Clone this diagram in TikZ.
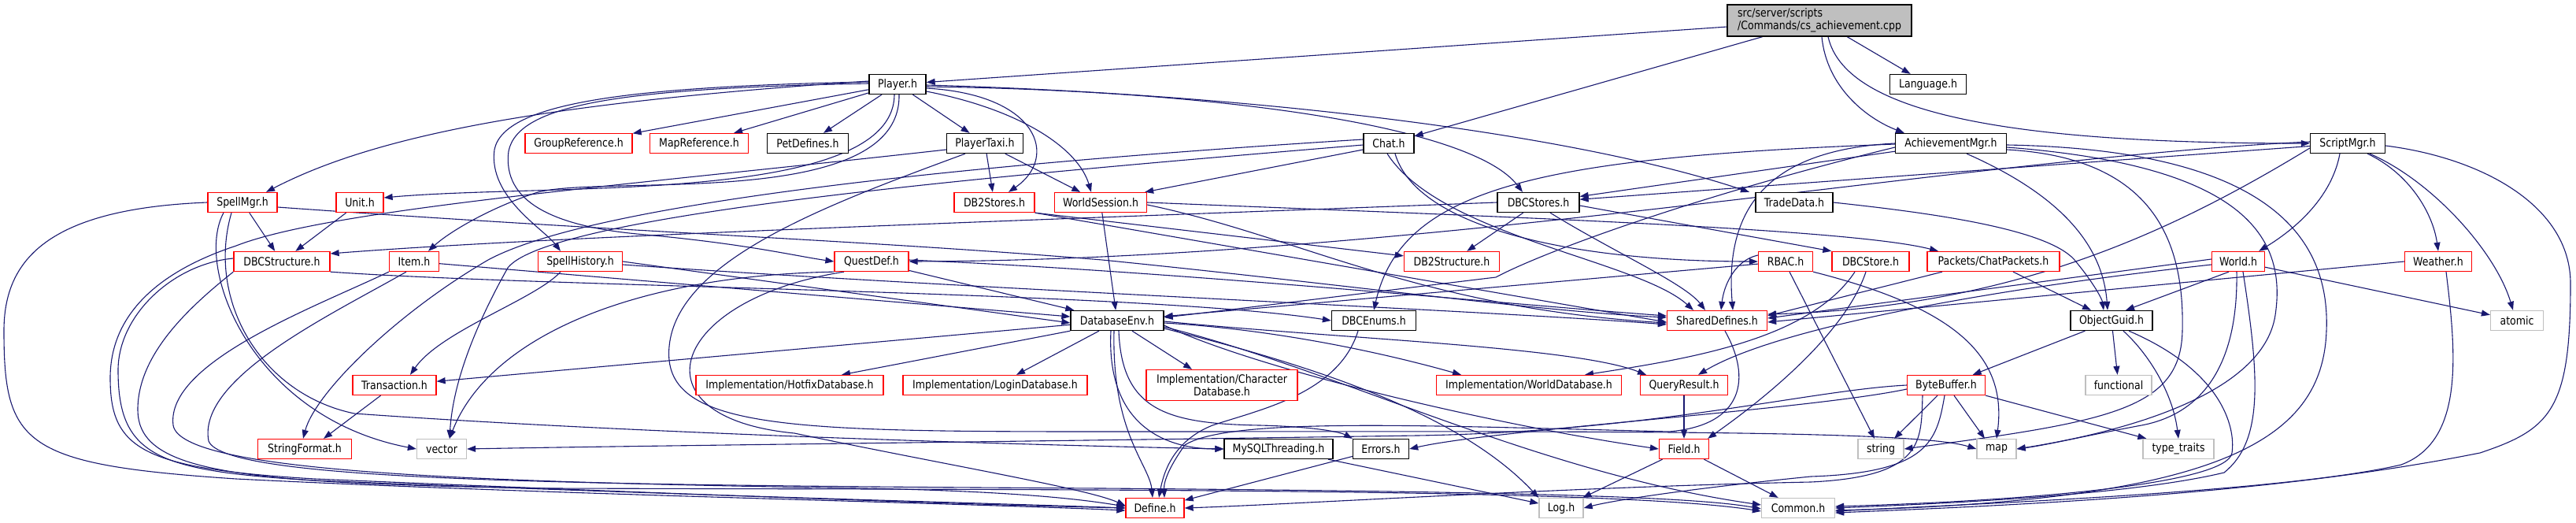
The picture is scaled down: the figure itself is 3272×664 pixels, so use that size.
\documentclass[tikz,border=0pt]{standalone}
\usepackage{fontspec}
\setmainfont{DejaVu Sans}[FakeStretch=0.86]
\usetikzlibrary{arrows.meta}
\definecolor{edgecol}{HTML}{191970}
\definecolor{redb}{HTML}{FF0000}
\definecolor{grayb}{HTML}{BFBFBF}
\pgfdeclarelayer{edgelayer}
\pgfsetlayers{edgelayer,main}
\begin{document}
\begin{tikzpicture}[x=1pt,y=-1pt,
  box/.style={draw, line width=1.3pt, fill=white, inner sep=0pt, minimum height=25pt, font=\fontsize{14.6}{16}\selectfont},
  blk/.style={box, draw=black},
  redbox/.style={box, draw=redb},
  sysbox/.style={box, draw=grayb},
  e/.style={draw=edgecol, line width=1.1pt, -{Triangle[length=11pt,width=8pt]}}
]
\useasboundingbox (0,0) rectangle (3272,664);
% nodes
\node[blk, fill=grayb, minimum width=234pt, minimum height=40pt, align=left] (root) at (2311,26) {src/server/scripts\\/Commands/cs\_achievement.cpp};
\node[blk, minimum width=72pt] (player) at (1140,107) {Player.h};
\node[blk, minimum width=97pt] (language) at (2449,107) {Language.h};
\node[redbox, minimum width=136pt] (groupref) at (735,182) {GroupReference.h};
\node[redbox, minimum width=125pt] (mapref) at (888,182) {MapReference.h};
\node[blk, minimum width=103pt] (petdef) at (1026,182) {PetDefines.h};
\node[blk, minimum width=97pt] (ptaxi) at (1251,182) {PlayerTaxi.h};
\node[blk, minimum width=64pt] (chat) at (1764,182) {Chat.h};
\node[blk, minimum width=141pt] (achmgr) at (2478,182) {AchievementMgr.h};
\node[blk, minimum width=95pt] (scriptmgr) at (2982,182) {ScriptMgr.h};
\node[redbox, minimum width=88pt] (spellmgr) at (308,257) {SpellMgr.h};
\node[redbox, minimum width=60pt] (unit) at (457,257) {Unit.h};
\node[redbox, minimum width=102pt] (db2stores) at (1263,257) {DB2Stores.h};
\node[redbox, minimum width=117pt] (wsession) at (1398,257) {WorldSession.h};
\node[blk, minimum width=104pt] (dbcstores) at (1954,257) {DBCStores.h};
\node[blk, minimum width=98pt] (tradedata) at (2279,257) {TradeData.h};
\node[redbox, minimum width=122pt] (dbcstruct) at (358,332) {DBCStructure.h};
\node[redbox, minimum width=63pt] (item) at (526,332) {Item.h};
\node[redbox, minimum width=107pt] (spellhist) at (737,332) {SpellHistory.h};
\node[redbox, minimum width=94pt] (questdef) at (1107,332) {QuestDef.h};
\node[redbox, minimum width=121pt] (db2struct) at (1844,332) {DB2Structure.h};
\node[redbox, minimum width=69pt] (rbac) at (2268,332) {RBAC.h};
\node[redbox, minimum width=98pt] (dbcstore) at (2376,332) {DBCStore.h};
\node[redbox, minimum width=168pt] (chatpk) at (2532,332) {Packets/ChatPackets.h};
\node[redbox, minimum width=67pt] (world) at (2843,332) {World.h};
\node[redbox, minimum width=85pt] (weather) at (3097,332) {Weather.h};
\node[blk, minimum width=118pt] (dbenv) at (1419,407) {DatabaseEnv.h};
\node[blk, minimum width=107pt] (dbcenums) at (1745,407) {DBCEnums.h};
\node[redbox, minimum width=127pt] (shared) at (2181,407) {SharedDefines.h};
\node[blk, minimum width=104pt] (oguid) at (2682,407) {ObjectGuid.h};
\node[sysbox, minimum width=67pt] (atomic) at (3197,407) {atomic};
\node[redbox, minimum width=106pt] (trans) at (501,489) {Transaction.h};
\node[redbox, minimum width=238pt] (hotfix) at (1003,489) {Implementation/HotfixDatabase.h};
\node[redbox, minimum width=234pt] (login) at (1264,489) {Implementation/LoginDatabase.h};
\node[redbox, minimum width=192pt, minimum height=39pt, align=center] (chardb) at (1552,489) {Implementation/Character\\Database.h};
\node[redbox, minimum width=235pt] (worlddb) at (1942,489) {Implementation/WorldDatabase.h};
\node[redbox, minimum width=111pt] (qresult) at (2139,489) {QueryResult.h};
\node[redbox, minimum width=99pt] (bbuf) at (2472,489) {ByteBuffer.h};
\node[sysbox, minimum width=84pt] (functional) at (2691,489) {functional};
\node[redbox, minimum width=119pt] (strfmt) at (387,570) {StringFormat.h};
\node[sysbox, minimum width=63pt] (vector) at (561,570) {vector};
\node[blk, minimum width=138pt] (mysqlthr) at (1624,570) {MySQLThreading.h};
\node[blk, minimum width=71pt] (errors) at (1754,570) {Errors.h};
\node[redbox, minimum width=63pt] (field) at (2139,570) {Field.h};
\node[sysbox, minimum width=58pt] (string) at (2389,570) {string};
\node[sysbox, minimum width=50pt] (map) at (2536,570) {map};
\node[sysbox, minimum width=90pt] (typetraits) at (2767,570) {type\_traits};
\node[redbox, minimum width=74pt] (define) at (1467,645) {Define.h};
\node[sysbox, minimum width=56pt] (log) at (1983,645) {Log.h};
\node[sysbox, minimum width=93pt] (common) at (2284,645) {Common.h};

\begin{pgfonlayer}{edgelayer}
% root
\draw[e] (root) -- (player);
\draw[e] (root) -- (chat);
\draw[e] (root) -- (language);
\draw[e] ([xshift=3pt]root.south) .. controls (2320,110) and (2370,150) .. ([xshift=12pt]achmgr.north west);
\draw[e] ([xshift=11pt]root.south) .. controls (2345,150) and (2580,182) .. (scriptmgr.west);
% player
\draw[e] (player) -- (groupref);
\draw[e] (player) -- (mapref);
\draw[e] (player) -- (petdef);
\draw[e] (player) -- (ptaxi);
\draw[e] ([yshift=-5pt]player.east) .. controls (1320,120) and (1345,200) .. ([xshift=18pt]db2stores.north);
\draw[e] ([yshift=-9pt]player.east) .. controls (1300,140) and (1370,190) .. ([xshift=-12pt]wsession.north);
\draw[e] ([yshift=-3pt]player.east) .. controls (1550,115) and (1870,160) .. ([xshift=-20pt]dbcstores.north);
\draw[e] ([yshift=-1pt]player.east) .. controls (1600,120) and (2000,170) .. ([xshift=-57pt]tradedata.north);
\draw[e] ([yshift=4pt]player.west) .. controls (700,130) and (480,170) .. ([xshift=30pt]spellmgr.north);
\draw[e] ([yshift=3pt]player.west) .. controls (800,110) and (640,130) .. (628,190) .. controls (620,250) and (690,290) .. ([xshift=-25pt]spellhist.north);
\draw[e] ([yshift=1pt]player.west) .. controls (790,112) and (658,132) .. (646,192) .. controls (638,255) and (700,288) .. (820,298) .. controls (950,310) and (1010,325) .. (questdef.west);
\draw[e] ([xshift=-4pt]player.south) .. controls (1135,260) and (700,232) .. ([yshift=6pt]unit.east);
\draw[e] ([xshift=2pt]player.south) .. controls (1145,270) and (760,220) .. (680,245) .. controls (620,265) and (570,295) .. ([xshift=18pt]item.north);
% playertaxi
\draw[e] (ptaxi) -- (db2stores);
\draw[e] (ptaxi) -- (wsession);
\draw[e] ([yshift=-8pt]ptaxi.west) .. controls (800,235) and (420,265) .. (300,312) .. controls (200,345) and (140,400) .. (140,480) .. controls (140,570) and (180,595) .. (400,608) .. controls (800,625) and (1200,640) .. (define.west);
\draw[e] ([xshift=-25pt]ptaxi.south) .. controls (1050,260) and (860,330) .. (850,440) .. controls (840,545) and (1000,548) .. (1400,548) .. controls (2000,548) and (2430,545) .. (map.west);
% chat
\draw[e] ([yshift=-8pt]chat.west) -- ([xshift=-3pt]wsession.north east);
\draw[e] ([xshift=8pt]chat.south) .. controls (1800,290) and (2000,332) .. (rbac.west);
\draw[e] ([xshift=-2pt]chat.south) .. controls (1830,300) and (2080,330) .. ([xshift=-30pt]shared.north);
\draw[e] ([yshift=5pt]chat.west) .. controls (1200,210) and (750,260) .. (620,330) .. controls (500,400) and (400,500) .. ([xshift=-2pt]strfmt.north);
\draw[e] ([yshift=-2pt]chat.west) .. controls (1300,220) and (700,270) .. (645,340) .. controls (600,420) and (575,490) .. ([xshift=10pt]vector.north);
% worldsession
\draw[e] (wsession) -- (dbenv);
\draw[e] ([yshift=-3pt]wsession.east) .. controls (1650,300) and (1800,390) .. ([yshift=-3pt]shared.west);
\draw[e] (wsession.east) .. controls (1900,275) and (2350,290) .. ([xshift=-70pt]chatpk.north);
% db2stores
\draw[e] (db2stores.south east) -- (db2struct);
\draw[e] (db2stores.south east) -- ([yshift=-2pt]shared.west);
% dbcstores
\draw[e] (dbcstores) -- (db2struct);
\draw[e] ([yshift=-4pt]dbcstores.east) -- (dbcstore.north west);
\draw[e] (dbcstores.west) .. controls (1300,280) and (700,300) .. ([yshift=10pt]dbcstruct.east);
\draw[e] ([xshift=15pt]dbcstores.south) .. controls (2050,320) and (2140,360) .. ([xshift=-15pt]shared.north);
% achievementmgr
\draw[e] (achmgr) -- (dbcstores);
\draw[e] ([yshift=-5pt]achmgr.west) .. controls (2150,250) and (1960,320) .. (1900,352) .. controls (1750,370) and (1550,395) .. ([yshift=4pt]dbenv.east);
\draw[e] ([yshift=-1pt]achmgr.west) .. controls (1950,200) and (1780,240) .. (dbcenums.north);
\draw[e] (achmgr.west) .. controls (2250,190) and (2190,260) .. ([xshift=20pt]shared.north);
\draw[e] ([xshift=20pt]achmgr.south) .. controls (2600,240) and (2670,300) .. ([xshift=-5pt]oguid.north);
\draw[e] ([yshift=-8pt]achmgr.east) .. controls (2730,200) and (2775,300) .. (2772,420) .. controls (2770,520) and (2680,535) .. (string.east);
\draw[e] ([yshift=-5pt]achmgr.east) .. controls (2850,210) and (2905,300) .. (2890,400) .. controls (2875,500) and (2700,548) .. (map.east);
\draw[e] ([yshift=-2pt]achmgr.east) .. controls (2880,190) and (2960,300) .. (2955,420) .. controls (2950,560) and (2820,635) .. ([yshift=-3pt]common.east);
% scriptmgr
\draw[e] (scriptmgr) -- (dbcstores);
\draw[e] ([yshift=-6pt]scriptmgr.west) .. controls (2750,300) and (2550,390) .. ([yshift=8pt]shared.east);
\draw[e] ([yshift=2pt]scriptmgr.west) .. controls (2500,200) and (1800,330) .. (questdef.east);
\draw[e] ([xshift=-10pt]scriptmgr.south) .. controls (2960,260) and (2900,300) .. ([xshift=-8pt]world.north east);
\draw[e] ([xshift=25pt]scriptmgr.south) .. controls (3060,220) and (3090,270) .. (weather.north);
\draw[e] ([xshift=28pt]scriptmgr.south) .. controls (3090,230) and (3170,320) .. ([xshift=-5pt]atomic.north);
\draw[e] ([yshift=-3pt]scriptmgr.east) .. controls (3150,200) and (3265,260) .. (3265,360) .. controls (3265,520) and (3240,545) .. (3150,575) .. controls (2900,625) and (2600,640) .. ([yshift=-6pt]common.east);
% spellmgr
\draw[e] (spellmgr) -- (dbcstruct);
\draw[e] ([yshift=-6pt]spellmgr.east) .. controls (800,295) and (1100,305) .. (1400,330) .. controls (1700,360) and (1950,395) .. ([yshift=4pt]shared.west);
\draw[e] (spellmgr.west) .. controls (60,265) and (5,330) .. (5,420) .. controls (5,565) and (30,590) .. (300,608) .. controls (700,628) and (1200,638) .. ([yshift=-3pt]define.west);
\draw[e] ([xshift=-24pt]spellmgr.south) .. controls (246,340) and (320,530) .. (vector.west);
\draw[e] ([xshift=-14pt]spellmgr.south) .. controls (262,380) and (330,500) .. (450,525) .. controls (800,550) and (1300,565) .. (mysqlthr.west);
% unit
\draw[e] (unit) -- (dbcstruct);
% dbcstructure
\draw[e] (dbcstruct.south east) .. controls (700,365) and (1450,370) .. (dbcenums.west);
\draw[e] ([yshift=4pt]dbcstruct.west) .. controls (220,335) and (150,400) .. (150,470) .. controls (150,580) and (200,598) .. (400,610) .. controls (900,630) and (1300,640) .. (define.west);
\draw[e] (dbcstruct.south west) .. controls (240,390) and (175,450) .. (175,520) .. controls (175,600) and (300,614) .. (700,620) .. controls (1400,622) and (2050,620) .. ([yshift=-4pt]common.west);
% item
\draw[e] (item) -- (dbenv);
\draw[e] ([xshift=-10pt]item.south) .. controls (420,400) and (250,480) .. (265,560) .. controls (285,610) and (700,616) .. (1400,620) .. controls (1900,624) and (2150,630) .. ([yshift=-1pt]common.west);
\draw[e] (item.south west) .. controls (400,390) and (210,460) .. (220,540) .. controls (230,600) and (600,612) .. (1100,620) .. controls (1300,624) and (1380,635) .. ([yshift=2pt]define.west);
% spellhistory
\draw[e] ([xshift=-25pt]spellhist.south) .. controls (680,380) and (560,420) .. ([xshift=20pt]trans.north);
\draw[e] (spellhist.east) -- ([yshift=-3pt]dbenv.west);
\draw[e] ([yshift=-4pt]spellhist.east) .. controls (1200,365) and (1900,395) .. ([yshift=-5pt]shared.west);
% questdef
\draw[e] (questdef) -- (dbenv);
\draw[e] ([yshift=2pt]questdef.east) .. controls (1500,345) and (1900,385) .. ([yshift=6pt]shared.west);
\draw[e] ([xshift=-35pt]questdef.south) .. controls (850,380) and (800,530) .. (1009,550) .. controls (1200,590) and (1380,620) .. ([yshift=3pt]define.west);
\draw[e] (questdef.south west) .. controls (800,350) and (620,430) .. ([xshift=10pt]vector.north);
% databaseenv
\draw[e] (dbenv) -- (trans);
\draw[e] (dbenv.south west) -- ([xshift=66pt]hotfix.north);
\draw[e] ([xshift=-23pt]dbenv.south) -- ([xshift=27pt]login.north);
\draw[e] ([xshift=19pt]dbenv.south) -- ([xshift=-38pt]chardb.north);
\draw[e] ([yshift=-3pt]dbenv.east) .. controls (1650,420) and (1800,460) .. ([xshift=-86pt]worlddb.north);
\draw[e] ([yshift=-1pt]dbenv.east) .. controls (1700,430) and (2000,440) .. ([xshift=-48pt]qresult.north);
\draw[e] ([yshift=-6pt]dbenv.east) .. controls (1600,470) and (1900,540) .. (field.west);
\draw[e] ([yshift=-8pt]dbenv.east) .. controls (1700,470) and (1950,600) .. ([yshift=4pt]common.west);
\draw[e] ([yshift=-10pt]dbenv.east) .. controls (1650,460) and (1850,520) .. (log.north west);
\draw[e] ([xshift=-8pt]dbenv.south) .. controls (1405,540) and (1480,570) .. (mysqlthr.west);
\draw[e] ([xshift=2pt]dbenv.south) .. controls (1425,520) and (1480,538) .. (1600,540) .. controls (1680,542) and (1705,550) .. (errors.north west);
\draw[e] ([xshift=-4pt]dbenv.south) .. controls (1412,550) and (1460,590) .. ([xshift=-3pt]define.north);
% dbcenums, shared
\draw[e] ([xshift=-20pt]dbcenums.south) .. controls (1700,500) and (1600,520) .. (1540,540) .. controls (1490,560) and (1478,600) .. ([xshift=5pt]define.north);
\draw[e] ([xshift=10pt]shared.south) .. controls (2225,480) and (2215,540) .. (2120,548) .. controls (1800,540) and (1560,530) .. (1505,565) .. controls (1487,590) and (1478,610) .. ([xshift=12pt]define.north);
% small ones
\draw[e] (qresult) -- (field);
\draw[e] (field) -- (log);
\draw[e] (field) -- (common);
\draw[e] (mysqlthr) -- (log);
\draw[e] (errors) -- (define);
\draw[e] (trans) -- ([xshift=24pt]strfmt.north);
% rbac
\draw[e] (rbac) -- (dbenv);
\draw[e] ([yshift=8pt]rbac.west) .. controls (2205,330) and (2190,360) .. ([xshift=5pt]shared.north);
\draw[e] ([xshift=5pt]rbac.south) -- ([xshift=-8pt]string.north);
\draw[e] (rbac.south east) .. controls (2480,390) and (2550,450) .. (map.north);
% dbcstore
\draw[e] ([xshift=-20pt]dbcstore.south) .. controls (2300,430) and (2150,455) .. ([xshift=71pt]worlddb.north);
\draw[e] ([xshift=-6pt]dbcstore.south) .. controls (2345,420) and (2250,500) .. ([xshift=-2pt]field.north east);
% chatpackets
\draw[e] ([xshift=25pt]chatpk.south) -- ([xshift=-26pt]oguid.north);
\draw[e] ([xshift=-65pt]chatpk.south) -- ([yshift=6pt]shared.east);
% tradedata
\draw[e] (tradedata.east) .. controls (2450,270) and (2600,290) .. (2635,330) .. controls (2660,360) and (2670,380) .. ([xshift=-10pt]oguid.north);
% world
\draw[e] ([yshift=3pt]world.west) -- ([yshift=3pt]shared.east);
\draw[e] ([yshift=-4pt]world.west) .. controls (2500,370) and (2250,420) .. ([xshift=18pt]qresult.north);
\draw[e] ([xshift=-12pt]world.south) -- ([xshift=18pt]oguid.north);
\draw[e] (world) -- (atomic);
\draw[e] ([xshift=-2pt]world.south) .. controls (2843,460) and (2800,525) .. (2720,540) .. controls (2650,553) and (2600,565) .. (map.east);
\draw[e] ([xshift=6pt]world.south) .. controls (2870,480) and (2875,560) .. (2825,600) .. controls (2700,630) and (2450,640) .. (common.east);
% weather
\draw[e] (weather.west) -- ([yshift=-2pt]shared.east);
\draw[e] ([xshift=10pt]weather.south) .. controls (3120,450) and (3130,560) .. (3050,590) .. controls (2900,625) and (2500,640) .. ([yshift=-4pt]common.east);
% objectguid
\draw[e] (oguid) -- (bbuf);
\draw[e] (oguid) -- (functional);
\draw[e] ([xshift=15pt]oguid.south) .. controls (2730,450) and (2760,500) .. (typetraits.north);
\draw[e] ([xshift=22pt]oguid.south) .. controls (2820,470) and (2840,540) .. (2835,575) .. controls (2830,612) and (2600,635) .. ([yshift=2pt]common.east);
% bytebuffer
\draw[e] ([xshift=10pt]bbuf.south) -- ([xshift=-15pt]map.north);
\draw[e] (bbuf.south east) -- ([xshift=5pt]typetraits.north west);
\draw[e] ([xshift=-11pt]bbuf.south) -- ([xshift=17pt]string.north);
\draw[e] (bbuf.west) .. controls (2300,495) and (2100,548) .. (1800,553) .. controls (1200,562) and (800,566) .. (vector.east);
\draw[e] ([yshift=-5pt]bbuf.west) .. controls (2300,520) and (1900,545) .. (errors.east);
\draw[e] ([xshift=-2pt]bbuf.south) .. controls (2460,560) and (2450,600) .. (2300,605) .. controls (2150,620) and (2050,635) .. (log.east);
\draw[e] ([xshift=-30pt]bbuf.south) .. controls (2440,560) and (2445,605) .. (2300,612) .. controls (2000,618) and (1650,640) .. (define.east);
\end{pgfonlayer}
\end{tikzpicture}
\end{document}
